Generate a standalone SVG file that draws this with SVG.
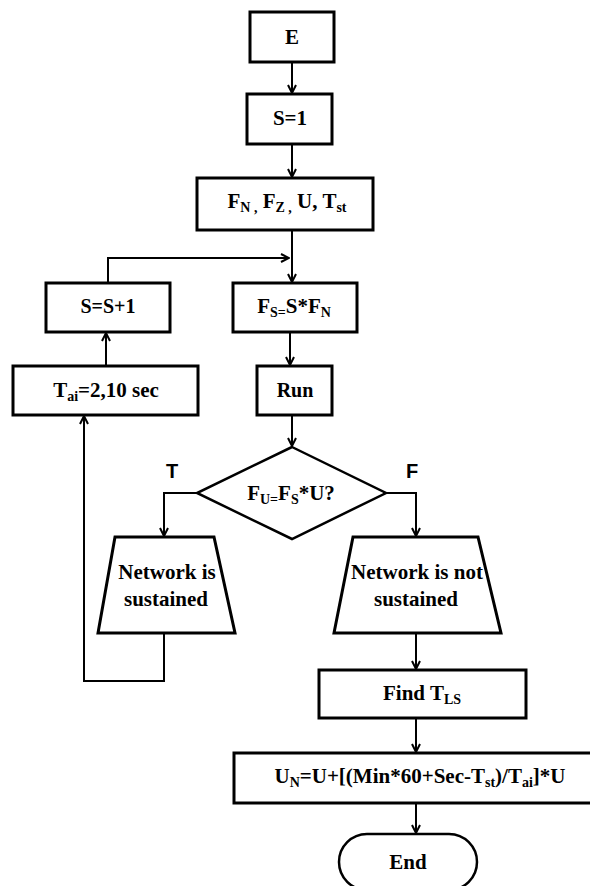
<svg xmlns="http://www.w3.org/2000/svg" width="590" height="886" viewBox="0 0 590 886">
<defs>
<marker id="arr" viewBox="0 0 10 10" refX="9" refY="5" markerWidth="10" markerHeight="10" markerUnits="userSpaceOnUse" orient="auto">
<path d="M1,1 L9,5 L1,9" fill="none" stroke="#000" stroke-width="2"/>
</marker>
<style>
.box{fill:#fff;stroke:#000;stroke-width:3}
.ln{fill:none;stroke:#000;stroke-width:2}
.t{font-family:'Liberation Serif','DejaVu Serif',serif;font-weight:bold;font-size:21px;fill:#000;text-anchor:middle}
.s{font-size:14px}
.lab{font-family:'Liberation Sans','DejaVu Sans',sans-serif;font-weight:bold;font-size:20px;fill:#000;text-anchor:middle}
</style>
</defs>
<rect width="590" height="886" fill="#fff"/>
<g id="connectors">
<path class="ln" d="M292,62 V93" marker-end="url(#arr)"/>
<path class="ln" d="M292,144 V177" marker-end="url(#arr)"/>
<path class="ln" d="M292,230 V282" marker-end="url(#arr)"/>
<path class="ln" d="M108,283 V258 H289" marker-end="url(#arr)"/>
<path class="ln" d="M290,332 V365" marker-end="url(#arr)"/>
<path class="ln" d="M292,415 V446" marker-end="url(#arr)"/>
<path class="ln" d="M197,493 H164 V536" marker-end="url(#arr)"/>
<path class="ln" d="M386,493 H416 V536" marker-end="url(#arr)"/>
<path class="ln" d="M164,633 V681 H84 V416" marker-end="url(#arr)"/>
<path class="ln" d="M106,366 V333" marker-end="url(#arr)"/>
<path class="ln" d="M416,633 V669" marker-end="url(#arr)"/>
<path class="ln" d="M416,718 V752" marker-end="url(#arr)"/>
<path class="ln" d="M416,803 V833" marker-end="url(#arr)"/>
</g>
<g id="n-e">
<rect class="box" x="250" y="12" width="84" height="50"/>
<text class="t" x="292" y="44" font-family="Liberation Serif, serif">E</text>
</g>
<g id="n-s1">
<rect class="box" x="247" y="94" width="85" height="50"/>
<text class="t" x="290" y="125">S=1</text>
</g>
<g id="n-init">
<rect class="box" x="197" y="178" width="176" height="52"/>
<text class="t" x="287" y="208">F<tspan class="s" dy="4">N ,</tspan><tspan dy="-4"> F</tspan><tspan class="s" dy="4">Z ,</tspan><tspan dy="-4"> U, T</tspan><tspan class="s" dy="4">st</tspan></text>
</g>
<g id="n-inc">
<rect class="box" x="46" y="283" width="124" height="49"/>
<text class="t" x="108" y="313" style="font-size:20px">S=S+1</text>
</g>
<g id="n-fs">
<rect class="box" x="233" y="283" width="124" height="49"/>
<text class="t" x="294" y="313">F<tspan class="s" dy="4">S=</tspan><tspan dy="-4">S*F</tspan><tspan class="s" dy="4">N</tspan></text>
</g>
<g id="n-tai">
<rect class="box" x="13" y="366" width="185" height="49"/>
<text class="t" x="106" y="397">T<tspan class="s" dy="4">ai</tspan><tspan dy="-4">=2,10 sec</tspan></text>
</g>
<g id="n-run">
<rect class="box" x="257" y="366" width="75" height="49"/>
<text class="t" x="295" y="397" style="font-size:20px">Run</text>
</g>
<g id="n-dec">
<polygon class="box" points="292,447 386,493 292,539 197,493" style="stroke-width:2.5"/>
<text class="t" x="291" y="500">F<tspan class="s" dy="4">U=</tspan><tspan dy="-4">F</tspan><tspan class="s" dy="4">S</tspan><tspan dy="-4">*U?</tspan></text>
<text class="lab" x="172" y="478">T</text>
<text class="lab" x="412" y="478">F</text>
</g>
<g id="n-sus">
<polygon class="box" points="115,537 214,537 235,633 98,633"/>
<text class="t" x="167" y="579">Network is</text>
<text class="t" x="166" y="606">sustained</text>
</g>
<g id="n-notsus">
<polygon class="box" points="353,537 478,537 501,633 334,633"/>
<text class="t" x="417" y="579">Network is not</text>
<text class="t" x="416" y="606">sustained</text>
</g>
<g id="n-find">
<rect class="box" x="319" y="670" width="207" height="48"/>
<text class="t" x="422" y="700">Find T<tspan class="s" dy="4">LS</tspan></text>
</g>
<g id="n-un">
<rect class="box" x="234" y="753" width="362" height="50"/>
<text class="t" x="420" y="783">U<tspan class="s" dy="4">N</tspan><tspan dy="-4">=U+[(Min*60+Sec-T</tspan><tspan class="s" dy="4">st</tspan><tspan dy="-4">)/T</tspan><tspan class="s" dy="4">ai</tspan><tspan dy="-4">]*U</tspan></text>
</g>
<g id="n-end">
<rect class="box" x="339" y="834" width="138" height="56" rx="28" ry="28" style="stroke-width:2.5"/>
<text class="t" x="408" y="869">End</text>
</g>
</svg>
